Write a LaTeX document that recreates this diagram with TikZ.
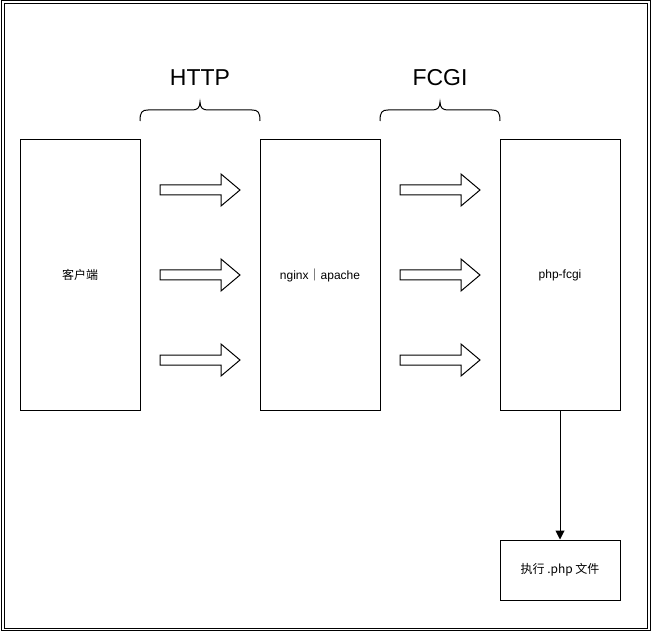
\documentclass[tikz,border=0pt]{standalone}
\usepackage{fontspec}
\setmainfont{Liberation Sans}
\newfontfamily\cjk{Noto Sans CJK SC}
\usetikzlibrary{arrows.meta}
\tikzset{
  box/.style={draw=black, line width=1pt, fill=white, minimum width=120pt, minimum height=270pt, inner sep=0pt, font=\fontsize{12pt}{14pt}\selectfont},
  smallbox/.style={box, minimum height=60pt},
  bigarrow/.style={draw=black, line width=1pt, fill=white, line join=miter},
  brace/.style={draw=black, line width=1pt},
  title/.style={font=\fontsize{23pt}{26pt}\selectfont},
  flow/.style={draw=black, line width=1pt, -{Triangle[length=9pt,width=9pt]}},
}
\newcommand\myblockarrow[3]{%
  \draw[bigarrow] (#1,#2-5) -- (#1+61,#2-5) -- (#1+61,#2-16) -- (#1+80,#2) -- (#1+61,#2+16) -- (#1+61,#2+5) -- (#1,#2+5) -- cycle;
}
\newcommand\mybrace[2]{% left x, mid x
  \draw[brace] (#1,121) .. controls (#1,112) and (#1+2,110) .. (#1+8,110)
     -- (#2-8,110) .. controls (#2-3,110) and (#2,108) .. (#2,102)
     .. controls (#2,108) and (#2+3,110) .. (#2+8,110)
     -- (2*#2-#1-8,110) .. controls (2*#2-#1-2,110) and (2*#2-#1,112) .. (2*#2-#1,121);
}
\begin{document}
\begin{tikzpicture}[x=1pt,y=-1pt]
\useasboundingbox (0,0) rectangle (651,631);
\fill[white] (0,0) rectangle (651,631);
\draw[line width=1pt] (1,1) rectangle (650,630.5);
\draw[line width=1pt] (4,4) rectangle (647,628);

\node[box] (client) at (80,275) {\cjk 客户端};
\node[box] (nginx) at (320,275) {nginx{\cjk ｜}apache};
\node[box] (php) at (560,275) {php-fcgi};
\node[smallbox] (exec) at (560,570) {\cjk 执行 .php 文件};

\node[title] (http) at (200,78) {HTTP};
\node[title] (fcgi) at (440,78) {FCGI};

\mybrace{140}{200}
\mybrace{380}{440}

\foreach \y in {190,275,360} {
  \myblockarrow{160}{\y}{}
  \myblockarrow{400}{\y}{}
}

\draw[flow] (php.south) -- (exec.north);
\end{tikzpicture}
\end{document}
